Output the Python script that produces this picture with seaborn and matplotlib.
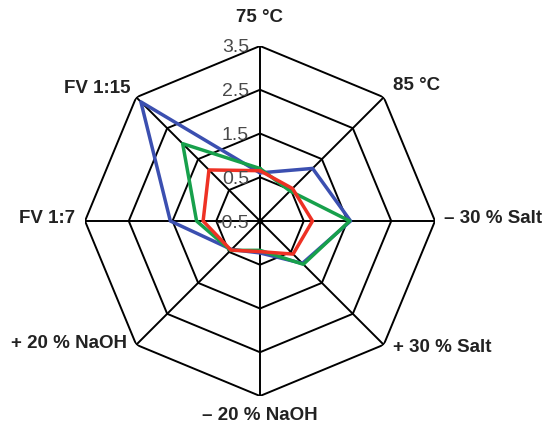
import numpy as np
import pandas as pd
import matplotlib
matplotlib.use("Agg")
import matplotlib.pyplot as plt
import seaborn as sns

# Conditions, clockwise from the top
categories = ["75 °C", "85 °C", "– 30 % Salt", "+ 30 % Salt",
              "– 20 % NaOH", "+ 20 % NaOH", "FV 1:7", "FV 1:15"]

series_blue = [0.60, 1.20, 1.57, 0.87, 0.23, 0.42, 1.55, 3.35]
series_green = [0.70, 0.47, 1.55, 0.90, 0.17, 0.45, 0.95, 2.00]
series_red = [0.65, 0.55, 0.70, 0.57, 0.20, 0.44, 0.80, 1.15]

ring_values = [0.5, 1.5, 2.5, 3.5]
tick_values = [-0.5, 0.5, 1.5, 2.5, 3.5]
tick_labels = ["-0.5", "0.5", "1.5", "2.5", "3.5"]

sns.set_theme(style="white")
plt.rcParams["font.family"] = ["Liberation Sans", "DejaVu Sans"]

n = len(categories)
angles = np.linspace(0, 2 * np.pi, n, endpoint=False)
closed = np.append(angles, angles[0])

rows = []
for name, vals in [("blue", series_blue), ("green", series_green), ("red", series_red)]:
    v = list(vals) + [vals[0]]
    for i, (a, r) in enumerate(zip(closed, v)):
        rows.append({"series": name, "order": i, "angle": a, "value": r})
df = pd.DataFrame(rows)

fig = plt.figure(figsize=(5.45, 4.23), dpi=100)
ax = fig.add_axes([85 / 545, 27 / 423, 350 / 545, 350 / 423], projection="polar")
ax.set_theta_zero_location("N")
ax.set_theta_direction(-1)
ax.set_ylim(-0.5, 3.5)
ax.grid(False)
ax.spines["polar"].set_visible(False)
ax.set_xticks([])
ax.set_yticks([])

# Octagonal web
for rv in ring_values:
    ax.plot(closed, [rv] * (n + 1), color="black", lw=1.4, zorder=1)
for a in angles:
    ax.plot([a, a], [-0.5, 3.5], color="black", lw=1.4, zorder=1)
ax.plot([0], [-0.5], "o", color="black", ms=3, zorder=5)

palette = {"blue": "#3b4fb0", "green": "#17a04b", "red": "#ee3124"}
sns.lineplot(data=df, x="angle", y="value", hue="series", units="series",
             estimator=None, sort=False, palette=palette, lw=2.5,
             legend=False, ax=ax, zorder=3)
ax.set_xlabel("")
ax.set_ylabel("")

# Radial scale along the top spoke
for tv, tl in zip(tick_values, tick_labels):
    ax.annotate(tl, xy=(0, tv), xytext=(-11, -2), textcoords="offset pixels",
                ha="right", va="center", fontsize=14, color="#4a4a4a", zorder=4)

# Condition labels
label_offsets = [(0, 29, "center"), (9, 12, "left"), (9, 3, "left"), (9, -3, "left"),
                 (0, -19, "center"), (-9, 1, "right"), (-10, 3, "right"), (-6, 9, "right")]
for a, name, (dx, dy, ha) in zip(angles, categories, label_offsets):
    ax.annotate(name, xy=(a, 3.5), xytext=(dx, dy), textcoords="offset pixels",
                ha=ha, va="center", fontsize=13.5, fontweight="bold", color="#222222",
                annotation_clip=False)

fig.savefig("out.png", dpi=100)
